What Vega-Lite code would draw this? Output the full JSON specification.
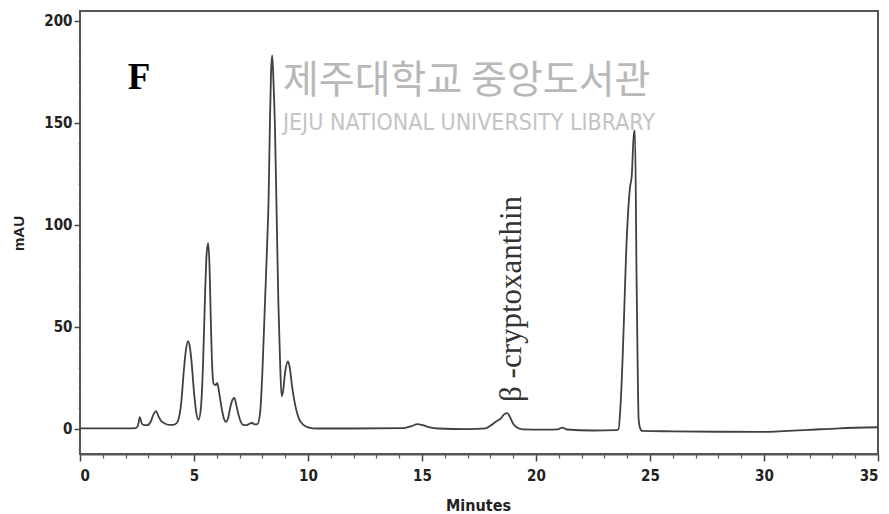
{
  "$schema": "https://vega.github.io/schema/vega-lite/v6.json",
  "autosize": "none",
  "width": 798,
  "height": 443,
  "padding": {"left": 80, "top": 11, "right": 11, "bottom": 60},
  "background": "white",
  "config": {"view": {"stroke": "#555555", "strokeWidth": 2}},
  "datasets": {
    "trace": [
      {"t": 0, "v": 0.3}, {"t": 1, "v": 0.3}, {"t": 2, "v": 0.3}, {"t": 2.45, "v": 0.4},
      {"t": 2.55, "v": 2}, {"t": 2.62, "v": 5.8}, {"t": 2.7, "v": 3}, {"t": 2.8, "v": 1.8},
      {"t": 2.95, "v": 1.8}, {"t": 3.1, "v": 3.5}, {"t": 3.22, "v": 7}, {"t": 3.33, "v": 8.7},
      {"t": 3.45, "v": 6}, {"t": 3.55, "v": 4}, {"t": 3.7, "v": 2.8}, {"t": 3.9, "v": 2},
      {"t": 4.1, "v": 2}, {"t": 4.25, "v": 3}, {"t": 4.35, "v": 6}, {"t": 4.45, "v": 14},
      {"t": 4.55, "v": 28}, {"t": 4.65, "v": 39}, {"t": 4.74, "v": 43}, {"t": 4.82, "v": 40},
      {"t": 4.9, "v": 32}, {"t": 5.0, "v": 18}, {"t": 5.1, "v": 8}, {"t": 5.2, "v": 4.5},
      {"t": 5.3, "v": 10}, {"t": 5.4, "v": 33}, {"t": 5.47, "v": 60}, {"t": 5.55, "v": 85},
      {"t": 5.62, "v": 91}, {"t": 5.68, "v": 80}, {"t": 5.74, "v": 52}, {"t": 5.8, "v": 30},
      {"t": 5.86, "v": 22}, {"t": 5.95, "v": 21.5}, {"t": 6.02, "v": 22.5}, {"t": 6.1, "v": 18},
      {"t": 6.2, "v": 11}, {"t": 6.3, "v": 5.5}, {"t": 6.4, "v": 3.5}, {"t": 6.5, "v": 5.5},
      {"t": 6.6, "v": 11}, {"t": 6.7, "v": 14.5}, {"t": 6.77, "v": 15.2}, {"t": 6.85, "v": 12},
      {"t": 6.95, "v": 7}, {"t": 7.05, "v": 3.5}, {"t": 7.15, "v": 2}, {"t": 7.3, "v": 1.8},
      {"t": 7.45, "v": 2.6}, {"t": 7.55, "v": 3}, {"t": 7.65, "v": 2.2}, {"t": 7.78, "v": 2.3},
      {"t": 7.9, "v": 8}, {"t": 8.0, "v": 28}, {"t": 8.1, "v": 58}, {"t": 8.2, "v": 88},
      {"t": 8.27, "v": 112}, {"t": 8.33, "v": 150}, {"t": 8.38, "v": 175}, {"t": 8.43, "v": 183},
      {"t": 8.48, "v": 172}, {"t": 8.55, "v": 148}, {"t": 8.62, "v": 108}, {"t": 8.7, "v": 62},
      {"t": 8.77, "v": 35}, {"t": 8.84, "v": 16}, {"t": 8.9, "v": 18}, {"t": 9.0, "v": 28},
      {"t": 9.12, "v": 33}, {"t": 9.2, "v": 30}, {"t": 9.3, "v": 21}, {"t": 9.45, "v": 11},
      {"t": 9.6, "v": 5}, {"t": 9.8, "v": 2}, {"t": 10.0, "v": 0.8}, {"t": 10.4, "v": 0.2},
      {"t": 12, "v": 0.2}, {"t": 14.2, "v": 0.4}, {"t": 14.55, "v": 1.4}, {"t": 14.8, "v": 2.3},
      {"t": 15.05, "v": 1.8}, {"t": 15.35, "v": 0.7}, {"t": 15.7, "v": 0.2}, {"t": 17, "v": -0.1},
      {"t": 17.8, "v": 0.3}, {"t": 18.0, "v": 1.5}, {"t": 18.25, "v": 3.6}, {"t": 18.45, "v": 5},
      {"t": 18.62, "v": 7.3}, {"t": 18.74, "v": 7.7}, {"t": 18.85, "v": 6}, {"t": 19.0, "v": 2.5},
      {"t": 19.15, "v": 0.8}, {"t": 19.4, "v": -0.2}, {"t": 20.5, "v": -0.4}, {"t": 20.95, "v": -0.2},
      {"t": 21.15, "v": 0.6}, {"t": 21.35, "v": -0.3}, {"t": 22.5, "v": -0.8}, {"t": 23.5, "v": -0.6},
      {"t": 23.62, "v": -0.2}, {"t": 23.7, "v": 10}, {"t": 23.8, "v": 35}, {"t": 23.87, "v": 58},
      {"t": 23.95, "v": 85}, {"t": 24.05, "v": 108}, {"t": 24.12, "v": 118}, {"t": 24.2, "v": 124},
      {"t": 24.3, "v": 146}, {"t": 24.34, "v": 146}, {"t": 24.41, "v": 75}, {"t": 24.46, "v": 30},
      {"t": 24.5, "v": 5}, {"t": 24.56, "v": 0.5}, {"t": 24.65, "v": -1}, {"t": 26, "v": -1.2},
      {"t": 28, "v": -1.4}, {"t": 29.9, "v": -1.5}, {"t": 31.9, "v": -0.5}, {"t": 33.3, "v": 0.3},
      {"t": 35, "v": 0.8}
    ]
  },
  "layer": [
    {
      "data": {"values": [
        {"t": 8.9, "v": 170.5, "label": "제주대학교 중앙도서관"}
      ]},
      "mark": {"type": "text", "font": "Noto Sans CJK KR", "fontSize": 39, "color": "#b8b8b8", "align": "left", "baseline": "middle"},
      "encoding": {
        "x": {"field": "t", "type": "quantitative", "scale": {"domain": [0, 35], "nice": false}, "axis": null},
        "y": {"field": "v", "type": "quantitative", "scale": {"domain": [-12.3, 204.7], "nice": false}, "axis": null},
        "text": {"field": "label"}
      }
    },
    {
      "data": {"values": [
        {"t": 8.9, "v": 150, "label": "JEJU NATIONAL UNIVERSITY  LIBRARY"}
      ]},
      "mark": {"type": "text", "font": "Liberation Sans Narrow, DejaVu Sans Condensed, sans-serif", "fontSize": 23, "color": "#c4c4c4", "align": "left", "baseline": "middle"},
      "encoding": {
        "x": {"field": "t", "type": "quantitative", "axis": null},
        "y": {"field": "v", "type": "quantitative", "axis": null},
        "text": {"field": "label"}
      }
    },
    {
      "data": {"name": "trace"},
      "mark": {"type": "line", "color": "#404040", "strokeWidth": 1.8, "interpolate": "monotone"},
      "encoding": {
        "x": {
          "field": "t", "type": "quantitative",
          "scale": {"domain": [0, 35], "nice": false},
          "axis": {
            "orient": "bottom", "values": [0, 5, 10, 15, 20, 25, 30, 35], "grid": false,
            "tickSize": 7, "tickColor": "#444444", "tickWidth": 1.5,
            "domain": true, "domainColor": "#555555", "domainWidth": 2,
            "labelFont": "Liberation Sans Narrow, DejaVu Sans Condensed, sans-serif", "labelFontWeight": "bold",
            "labelFontSize": 15, "labelColor": "#222222", "labelPadding": 7,
            "title": "Minutes", "titleFont": "Liberation Sans Narrow, DejaVu Sans Condensed, sans-serif",
            "titleFontWeight": "bold", "titleFontSize": 16, "titleColor": "#222222",
            "titleX": 398, "titleY": 51, "titleBaseline": "middle", "titleAlign": "center"
          }
        },
        "y": {
          "field": "v", "type": "quantitative",
          "scale": {"domain": [-12.3, 204.7], "nice": false},
          "axis": {
            "orient": "left", "values": [0, 50, 100, 150, 200], "grid": false,
            "tickSize": 6, "tickColor": "#444444", "tickWidth": 1.5, "domain": false,
            "labelFont": "Liberation Sans Narrow, DejaVu Sans Condensed, sans-serif", "labelFontWeight": "bold",
            "labelFontSize": 15, "labelColor": "#222222", "labelPadding": 2,
            "title": "mAU", "titleFont": "Liberation Sans, Arial, sans-serif",
            "titleFontWeight": "bold", "titleFontSize": 15, "titleColor": "#222222",
            "titleX": -62, "titleY": 222, "titleAngle": 270, "titleBaseline": "middle", "titleAlign": "center"
          }
        }
      }
    },
    {
      "data": {"name": "trace"},
      "mark": {"type": "line", "opacity": 0},
      "encoding": {
        "x": {
          "field": "t", "type": "quantitative",
          "axis": {
            "orient": "bottom", "values": [1,2,3,4,6,7,8,9,11,12,13,14,16,17,18,19,21,22,23,24,26,27,28,29,31,32,33,34],
            "grid": false, "labels": false, "domain": false, "title": null,
            "tickSize": 4, "tickColor": "#555555", "tickWidth": 1.2
          }
        },
        "y": {
          "field": "v", "type": "quantitative",
          "axis": {
            "orient": "left", "values": [-10,10,20,30,40,60,70,80,90,110,120,130,140,160,170,180,190],
            "grid": false, "labels": false, "domain": false, "title": null,
            "tickSize": 2, "tickColor": "#666666", "tickWidth": 1.2
          }
        }
      }
    },
    {
      "data": {"values": [
        {"t": 2.59, "v": 171.8, "label": "F"}
      ]},
      "mark": {"type": "text", "font": "Liberation Serif, Times New Roman, serif", "fontWeight": "bold", "fontSize": 37, "color": "#000000", "align": "center", "baseline": "middle"},
      "encoding": {
        "x": {"field": "t", "type": "quantitative", "axis": null},
        "y": {"field": "v", "type": "quantitative", "axis": null},
        "text": {"field": "label"}
      }
    },
    {
      "data": {"values": [
        {"t": 18.95, "v": 13.2, "label": "β -cryptoxanthin"}
      ]},
      "mark": {"type": "text", "font": "Liberation Serif, Times New Roman, serif", "fontSize": 31, "color": "#333333", "align": "left", "baseline": "middle", "angle": 270},
      "encoding": {
        "x": {"field": "t", "type": "quantitative", "axis": null},
        "y": {"field": "v", "type": "quantitative", "axis": null},
        "text": {"field": "label"}
      }
    }
  ],
  "resolve": {"axis": {"x": "independent", "y": "independent"}}
}
